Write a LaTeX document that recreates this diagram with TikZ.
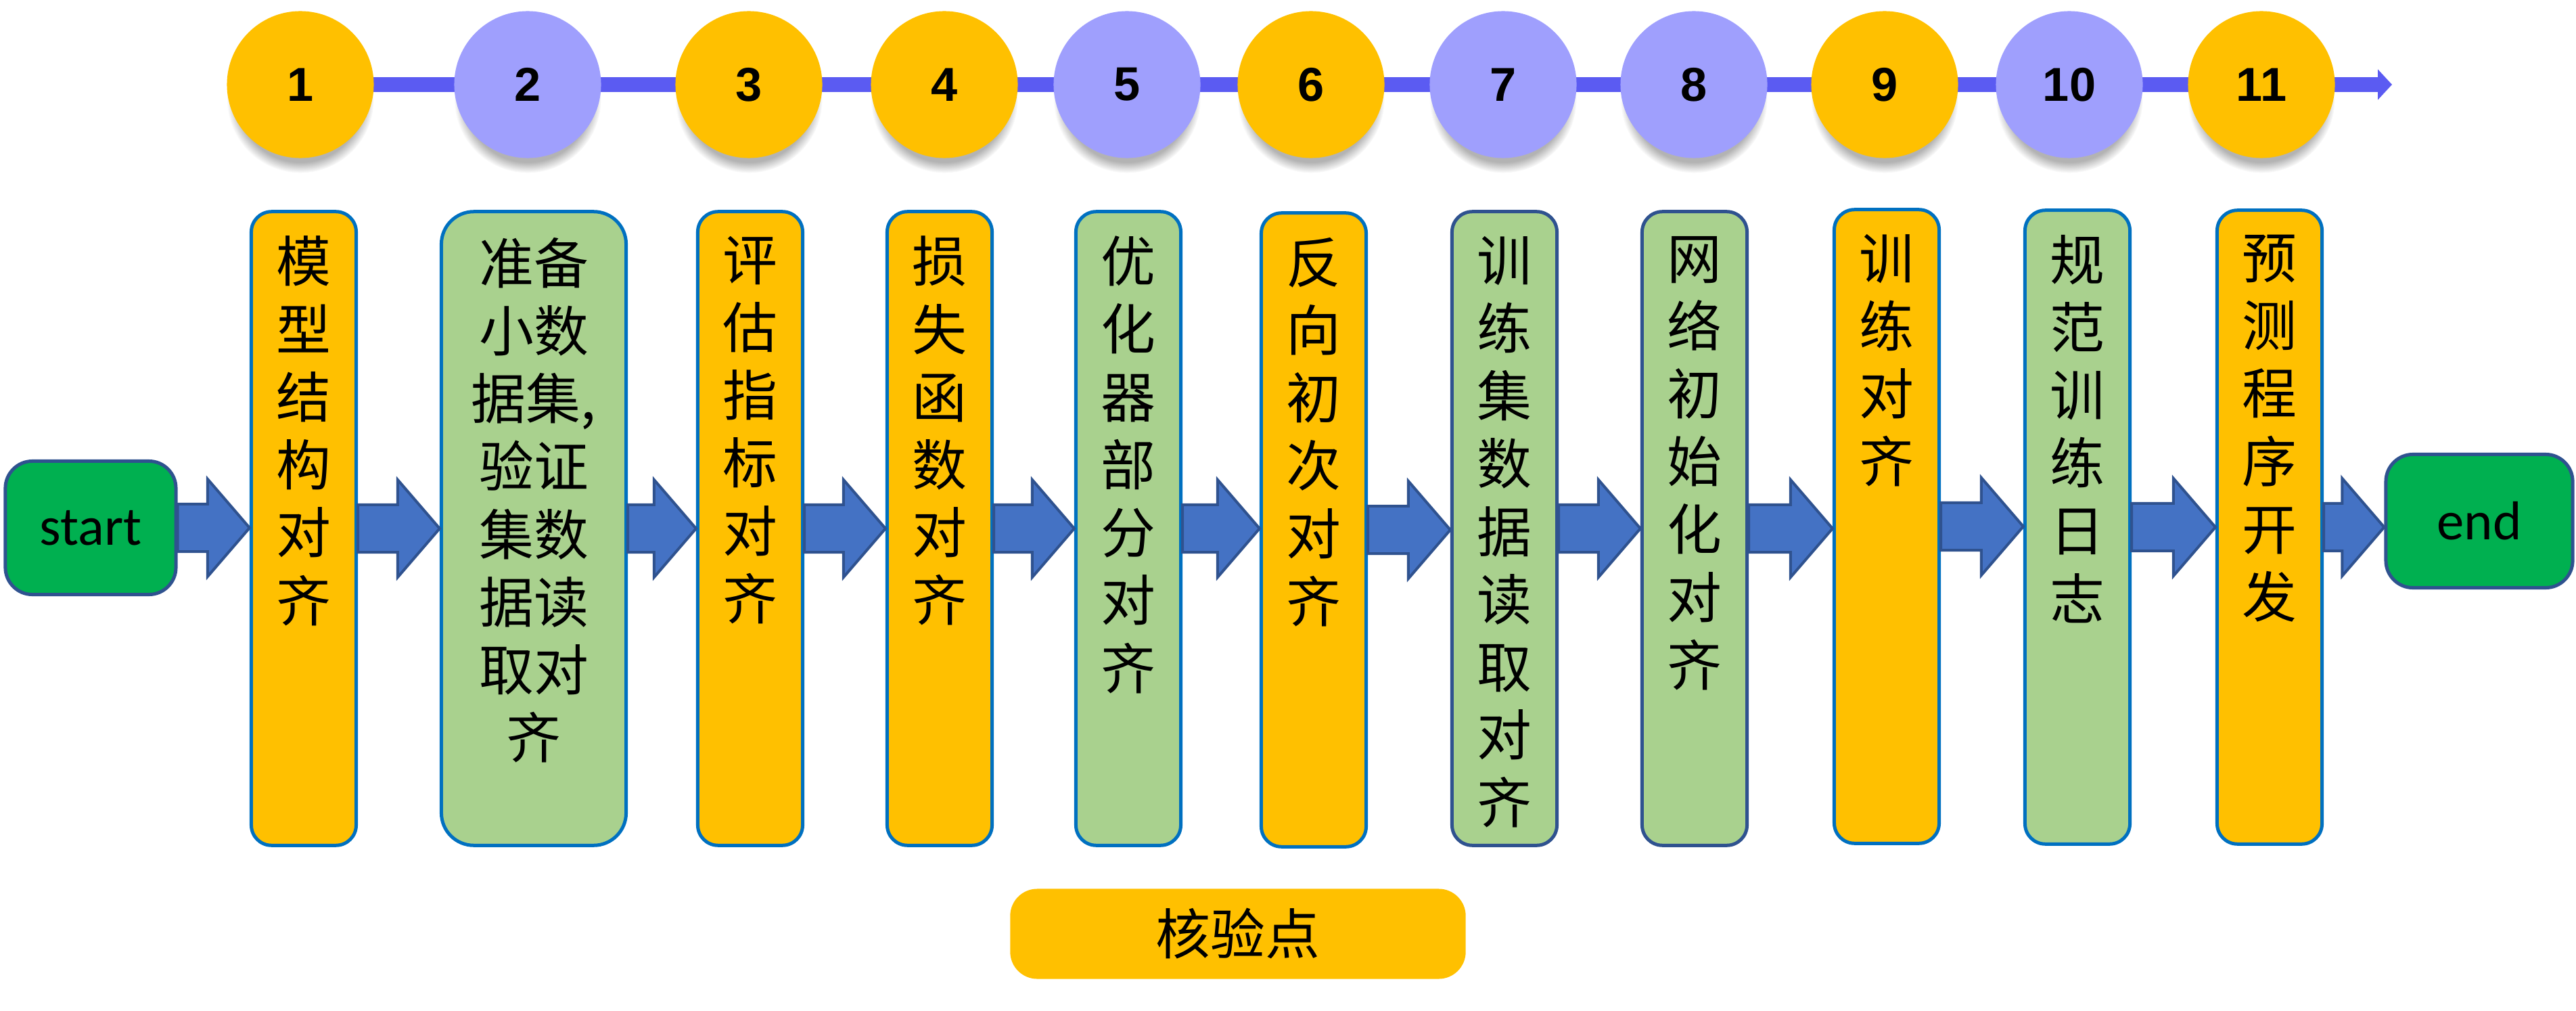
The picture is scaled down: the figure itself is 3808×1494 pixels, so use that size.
\documentclass[tikz,border=0pt]{standalone}
\usepackage{fontspec}
\usepackage{xcolor}
\usetikzlibrary{calc,shadows,backgrounds,arrows.meta}
\newfontfamily\cjk{Noto Sans CJK SC}
\newfontfamily\numfont{Liberation Sans}
\newfontfamily\latfont{Carlito}
\definecolor{gold}{HTML}{FFC000}
\definecolor{sage}{HTML}{A9D18E}
\definecolor{lilac}{HTML}{9F9FFD}
\definecolor{track}{HTML}{5B5BF2}
\definecolor{leaf}{HTML}{00B050}
\definecolor{navy}{HTML}{2F528F}
\definecolor{edgeblue}{HTML}{0070C0}
\definecolor{flowblue}{HTML}{4472C4}
\tikzset{
  milestone/.style={circle,minimum size=2.17cm,inner sep=0pt,
    font=\numfont\bfseries\fontsize{20pt}{24pt}\selectfont,
    circular drop shadow={shadow scale=1.0,shadow xshift=0pt,shadow yshift=-2.2mm,opacity=.6}},
  stage/.style={rectangle,rounded corners=0.3cm,draw=edgeblue,line width=0.5mm,
    minimum width=1.55cm,minimum height=9.36cm,inner sep=0pt},
  stagetext/.style={align=center,inner sep=0pt,font=\cjk\fontsize{23pt}{28.5pt}\selectfont},
  ends/.style={rectangle,rounded corners=0.4cm,fill=leaf,draw=navy,line width=0.5mm,
    minimum height=1.97cm,font=\latfont\fontsize{23pt}{28pt}\selectfont},
  timeline/.style={draw=track,line width=2.2mm,-{Triangle[length=2.1mm,width=4.4mm]}},
  flow/.style={draw=navy,fill=flowblue,line width=0.4mm,line join=miter,
    to path={let \p1=(\tikztostart), \p2=(\tikztotarget) in
      (\x1,\y1+0.35cm) -- (\x2-0.62cm,\y1+0.35cm) -- (\x2-0.62cm,\y1+0.72cm) -- (\x2,\y1)
      -- (\x2-0.62cm,\y1-0.72cm) -- (\x2-0.62cm,\y1-0.35cm) -- (\x1,\y1-0.35cm) -- cycle}}
}
\begin{document}
\begin{tikzpicture}[x=0.01cm,y=-0.01cm]
\useasboundingbox (0,0) rectangle (3808,1494);

\foreach \n/\x/\c in {1/444/gold,2/780/lilac,3/1107/gold,4/1396/gold,5/1666/lilac,6/1938/gold,
  7/2222/lilac,8/2504/lilac,9/2786/gold,10/3059/lilac,11/3343/gold}
  \node[milestone,fill=\c] (m\n) at (\x,125) {\n};
\coordinate (tip) at (3536,125);
\begin{scope}[on background layer]
\draw[timeline] (m1.center) -- (tip);
\end{scope}

\node[ends,minimum width=2.52cm] (start) at (134,780) {start};
\node[ends,minimum width=2.76cm] (end) at (3665,770) {end};

\node[stage,fill=gold,label={[stagetext,anchor=north,yshift=-0.38cm]north:模\\型\\结\\构\\对\\齐}] (s1) at (449,781) {};
\node[stage,fill=sage,minimum width=2.73cm,rounded corners=0.48cm,label={[stagetext,anchor=north,yshift=-0.4cm]north:准备\\小数\\据集,\\验证\\集数\\据读\\取对\\齐}] (s2) at (789,781) {};
\node[stage,fill=gold,label={[stagetext,anchor=north,yshift=-0.38cm]north:评\\估\\指\\标\\对\\齐}] (s3) at (1109,781) {};
\node[stage,fill=gold,label={[stagetext,anchor=north,yshift=-0.38cm]north:损\\失\\函\\数\\对\\齐}] (s4) at (1389,781) {};
\node[stage,fill=sage,label={[stagetext,anchor=north,yshift=-0.38cm]north:优\\化\\器\\部\\分\\对\\齐}] (s5) at (1668,781) {};
\node[stage,fill=gold,label={[stagetext,anchor=north,yshift=-0.38cm]north:反\\向\\初\\次\\对\\齐}] (s6) at (1942,783) {};
\node[stage,fill=sage,draw=navy,label={[stagetext,anchor=north,yshift=-0.38cm]north:训\\练\\集\\数\\据\\读\\取\\对\\齐}] (s7) at (2224,781) {};
\node[stage,fill=sage,draw=navy,label={[stagetext,anchor=north,yshift=-0.38cm]north:网\\络\\初\\始\\化\\对\\齐}] (s8) at (2505,781) {};
\node[stage,fill=gold,label={[stagetext,anchor=north,yshift=-0.38cm]north:训\\练\\对\\齐}] (s9) at (2789,778) {};
\node[stage,fill=sage,label={[stagetext,anchor=north,yshift=-0.38cm]north:规\\范\\训\\练\\日\\志}] (s10) at (3071,779) {};
\node[stage,fill=gold,label={[stagetext,anchor=north,yshift=-0.38cm]north:预\\测\\程\\序\\开\\发}] (s11) at (3355,779) {};

\draw[flow] (start.east) to (s1.west);
\draw[flow] (s1.east) to (s2.west);
\draw[flow] (s2.east) to (s3.west);
\draw[flow] (s3.east) to (s4.west);
\draw[flow] (s4.east) to (s5.west);
\draw[flow] (s5.east) to (s6.west);
\draw[flow] (s6.east) to (s7.west);
\draw[flow] (s7.east) to (s8.west);
\draw[flow] (s8.east) to (s9.west);
\draw[flow] (s9.east) to (s10.west);
\draw[flow] (s10.east) to (s11.west);
\draw[flow] (s11.east) to (end.west);

\node[rectangle,rounded corners=0.4cm,fill=gold,minimum width=6.73cm,minimum height=1.33cm,
  font=\cjk\fontsize{23pt}{28pt}\selectfont] (check) at (1830,1380) {核验点};
\end{tikzpicture}
\end{document}
